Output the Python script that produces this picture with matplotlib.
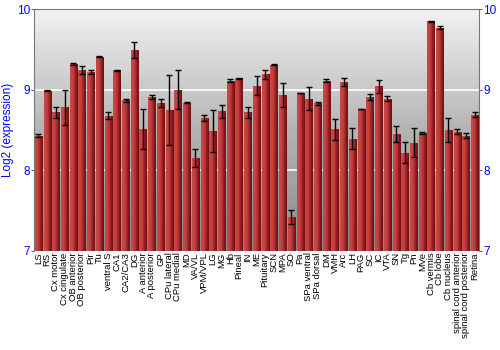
import numpy as np
import matplotlib
matplotlib.use("Agg")
import matplotlib.pyplot as plt
from matplotlib.colors import LinearSegmentedColormap

regions = ["LS", "RS", "Cx motor", "Cx cingulate", "OB anterior", "OB posterior", "Pir", "Tu",
           "ventral S", "CA1", "CA2/CA3", "DG", "A anterior", "A posterior", "GP", "CPu lateral",
           "CPu medial", "MD", "VA/VL", "VPM/VPL", "LG", "MG", "Hb", "Pineal", "IN", "ME",
           "Pituitary", "SCN", "MPA", "SO", "Pa", "SPa ventral", "SPa dorsal", "DM", "VMH", "Arc",
           "LH", "PAG", "SC", "IC", "VTA", "SN", "Tg", "Pn", "MVe", "Cb vermis", "Cb lobe",
           "Cb nucleus", "spinal cord anterior", "spinal cord posterior", "Retina"]
values = [8.43, 8.99, 8.72, 8.78, 9.32, 9.25, 9.22, 9.41,
          8.68, 9.24, 8.87, 9.49, 8.51, 8.91, 8.83, 8.75,
          9.00, 8.84, 8.15, 8.65, 8.49, 8.73, 9.11, 9.14, 8.72, 9.05,
          9.19, 9.31, 8.93, 7.42, 8.96, 8.89, 8.83, 9.11, 8.51, 9.10,
          8.39, 8.76, 8.91, 9.04, 8.89, 8.45, 8.22, 8.34, 8.46, 9.85, 9.77,
          8.50, 8.48, 8.43, 8.69]
errors = [0.02, 0.01, 0.07, 0.22, 0.01, 0.05, 0.02, 0.01,
          0.04, 0.01, 0.02, 0.10, 0.25, 0.03, 0.05, 0.43,
          0.24, 0.01, 0.11, 0.04, 0.26, 0.08, 0.02, 0.005, 0.065, 0.12,
          0.06, 0.005, 0.15, 0.09, 0.005, 0.14, 0.02, 0.02, 0.13, 0.05,
          0.13, 0.005, 0.035, 0.08, 0.035, 0.095, 0.13, 0.18, 0.015, 0.005, 0.02,
          0.15, 0.03, 0.03, 0.03]
y_ticks = [7, 8, 9, 10]
y_label = "Log2 (expression)"

plt.rcParams['font.family'] = ['Liberation Sans', 'DejaVu Sans']

fig = plt.figure(figsize=(5, 3.5), dpi=100)
ax = fig.add_axes([0.068, 0.283, 0.890, 0.691])

ymin, ymax = y_ticks[0], y_ticks[-1]
x = np.arange(len(regions))
ax.set_xlim(-0.5, len(regions) - 0.5)
ax.set_ylim(ymin, ymax)

# background gradient
bg_cmap = LinearSegmentedColormap.from_list("bg", ["#8a8a8a", "#b4b4b4", "#f2f2f2"])
grad = np.linspace(0, 1, 256).reshape(-1, 1)
ax.imshow(grad, extent=[0, 1, 0, 1], transform=ax.transAxes, origin="lower",
          cmap=bg_cmap, aspect="auto", zorder=0)

for yv in y_ticks[1:-1]:
    ax.axhline(yv, color="white", lw=1.2, zorder=1)

bars = ax.bar(x, np.array(values) - ymin, bottom=ymin, width=0.82, color="#b03030", zorder=2)

bar_cmap = LinearSegmentedColormap.from_list("bar", ["#c04848", "#cc4444", "#b83535", "#8a1c1c", "#6e1010"])
hgrad = np.linspace(0, 1, 64).reshape(1, -1)
for b in bars:
    x0 = b.get_x()
    w = b.get_width()
    im = ax.imshow(hgrad, extent=[x0, x0 + w, b.get_y(), b.get_y() + b.get_height()],
                   cmap=bar_cmap, aspect="auto", zorder=3)
    im.set_clip_path(b)

ax.errorbar(x, values, yerr=errors, fmt="none", ecolor="black", elinewidth=1.0,
            capsize=2, capthick=1.0, zorder=4)

ax.set_xticks(x)
ax.set_xticklabels(regions, rotation=90, fontsize=6.8)
ax.tick_params(axis="x", length=0, pad=1)

ax.set_yticks(y_ticks)
ax.set_yticklabels([str(t) for t in y_ticks])
ax.tick_params(axis="y", labelsize=8.5, labelcolor="#0000ff", color="#666666", length=2, pad=1,
               left=True, right=True, labelleft=True, labelright=True, direction="out")
ax.set_ylabel(y_label, color="#0000ff", fontsize=8.5)
ax.yaxis.set_label_coords(-0.045, 0.5)

for s in ["left", "right", "top"]:
    ax.spines[s].set_color("#777777")
ax.spines["bottom"].set_visible(False)

fig.savefig("out.png", dpi=100)
